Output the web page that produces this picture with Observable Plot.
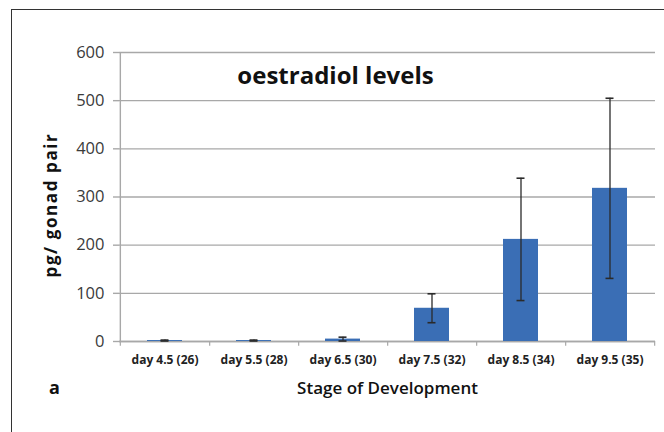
<!DOCTYPE html>
<html>
<head>
<meta charset="utf-8">
<script src="https://cdn.jsdelivr.net/npm/d3@7"></script>
<script src="https://cdn.jsdelivr.net/npm/@observablehq/plot@0.6"></script>
<style>
  html, body { margin: 0; padding: 0; background: #fff; }
  #wrap { position: relative; width: 664px; height: 432px; overflow: hidden; }
  #border { position: absolute; left: 11px; top: 9px; width: 700px; height: 500px;
            border-left: 1.5px solid #333; border-top: 1.5px solid #333; }
  svg { position: absolute; left: 0; top: 0; }
  .ylab { letter-spacing: 1.6px; }
</style>
</head>
<body>
<div id="wrap"><div id="border"></div></div>
<script>
const categories = ["day 4.5 (26)", "day 5.5 (28)", "day 6.5 (30)", "day 7.5 (32)", "day 8.5 (34)", "day 9.5 (35)"];
const means = [2, 2, 5, 69, 212, 318];
const errors = [1, 1, 4, 30, 127, 187];
const yTicks = [0, 100, 200, 300, 400, 500, 600];
const title = "oestradiol levels";
const yLabel = "pg/ gonad pair";
const xLabel = "Stage of Development";
const panel = "a";

const data = categories.map((c, i) => ({cat: c, mean: means[i], lo: means[i] - errors[i], hi: means[i] + errors[i]}));

const W = 664, H = 432;
const mL = 119, mR = 9, mT = 52, mB = 91;
const bw = (W - mL - mR) / categories.length;
const font = "'Open Sans', sans-serif";
const grey = "#a8a8a8";

const chart = Plot.plot({
  width: W, height: H,
  marginLeft: mL, marginRight: mR, marginTop: mT, marginBottom: mB,
  style: {fontFamily: font, background: "transparent"},
  x: {type: "band", domain: categories, padding: 0},
  y: {domain: [0, 600]},
  marks: [
    Plot.gridY(yTicks, {stroke: grey, strokeOpacity: 1, strokeWidth: 1.4}),
    // vertical axis line
    Plot.ruleX([categories[0]], {x: d => d, dx: -bw / 2, y1: 0, y2: 600, stroke: grey, strokeWidth: 1.4}),
    // baseline
    Plot.ruleY([0], {stroke: grey, strokeWidth: 1.4}),
    // category separators (ticks below the baseline)
    Plot.ruleX(categories, {x: d => d, dx: bw / 2, y1: 0, y2: -10, stroke: grey, strokeWidth: 1.2}),
    Plot.ruleX([categories[0]], {x: d => d, dx: -bw / 2, y1: 0, y2: -10, stroke: grey, strokeWidth: 1.2}),
    Plot.axisY(yTicks, {tickSize: 6, stroke: grey, strokeWidth: 1.4, fill: "#3a3a3a", fontSize: 16.5, tickPadding: 9, label: null}),
    Plot.axisX({tickSize: 0, tickPadding: 14, fontSize: 12, fontWeight: "bold", fill: "#222", label: null}),
    Plot.barY(data, {x: "cat", y: "mean", fill: "#3a6eb5", insetLeft: 27, insetRight: 27}),
    Plot.ruleX(data, {x: "cat", y1: "lo", y2: "hi", stroke: "#2a2a2a", strokeWidth: 1.3}),
    Plot.tickY(data, {x: "cat", y: "hi", stroke: "#2a2a2a", strokeWidth: 1.6, insetLeft: 40.5, insetRight: 40.5}),
    Plot.tickY(data, {x: "cat", y: "lo", stroke: "#2a2a2a", strokeWidth: 1.6, insetLeft: 40.5, insetRight: 40.5}),
    Plot.text([title], {frameAnchor: "top-left", dx: 216, dy: 24, textAnchor: "middle", lineAnchor: "middle", fontSize: 24, fontWeight: "bold", fill: "#111"}),
    Plot.text([yLabel], {frameAnchor: "left", dx: -68, dy: 8, rotate: -90, textAnchor: "middle", lineAnchor: "middle", fontSize: 17, fontWeight: "bold", fill: "#111", className: "ylab"}),
    Plot.text([xLabel], {frameAnchor: "bottom", dy: 47, textAnchor: "middle", lineAnchor: "middle", fontSize: 17, fontWeight: 600, fill: "#111"}),
    Plot.text([panel], {frameAnchor: "bottom-left", dx: -65, dy: 47, textAnchor: "middle", lineAnchor: "middle", fontSize: 18, fontWeight: "bold", fill: "#111"})
  ]
});
document.getElementById("wrap").appendChild(chart);
</script>
</body>
</html>
